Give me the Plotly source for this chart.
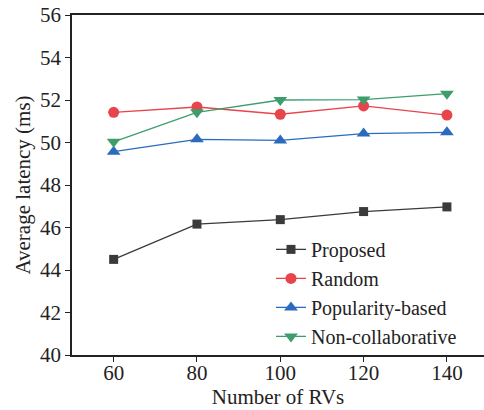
import plotly.graph_objects as go

rvs = [60, 80, 100, 120, 140]
proposed = [44.5, 46.16, 46.37, 46.75, 46.97]
random_ = [51.42, 51.67, 51.33, 51.72, 51.29]
popularity = [49.57, 50.15, 50.1, 50.42, 50.48]
noncollab = [50.03, 51.42, 52.0, 52.02, 52.3]
y_ticks = [40, 42, 44, 46, 48, 50, 52, 54, 56]
x_ticks = [60, 80, 100, 120, 140]

series = [
    ("Proposed", proposed, "#3a3a3a", "square", 9),
    ("Random", random_, "#e8444c", "circle", 11),
    ("Popularity-based", popularity, "#2a6bbd", "triangle-up", 12),
    ("Non-collaborative", noncollab, "#3d9e6c", "triangle-down", 12),
]

fig = go.Figure()
for name, vals, color, sym, sz in series:
    fig.add_trace(go.Scatter(
        x=rvs, y=vals, name=name, mode="lines+markers",
        line=dict(color=color, width=1.3),
        marker=dict(symbol=sym, size=sz, color=color),
    ))

font = "Liberation Serif, Times New Roman, serif"
fig.update_layout(
    width=484, height=410,
    margin=dict(l=72, r=0, t=15, b=55),
    paper_bgcolor="white", plot_bgcolor="white",
    font=dict(family=font, size=21, color="#222"),
    showlegend=True,
    legend=dict(x=0.483, y=0.368, xanchor="left", yanchor="top",
                bgcolor="rgba(0,0,0,0)", font=dict(size=20, family=font),
                tracegroupgap=0, itemwidth=30),
    xaxis=dict(range=[50, 148.9], tickvals=x_ticks, showline=True, linecolor="#222",
               linewidth=1.5, mirror=True, ticks="outside", ticklen=5, tickcolor="#222",
               ticklabelstandoff=-7,
               showgrid=False, zeroline=False,
               title=dict(text="Number of RVs", standoff=0, font=dict(size=21))),
    yaxis=dict(range=[40, 56], tickvals=y_ticks, showline=True, linecolor="#222",
               linewidth=1.5, ticks="outside", ticklen=5, tickcolor="#222",
               showgrid=False, zeroline=False,
               title=dict(text="Average latency (ms)", standoff=4, font=dict(size=21))),
)
fig.write_html("out.html")
